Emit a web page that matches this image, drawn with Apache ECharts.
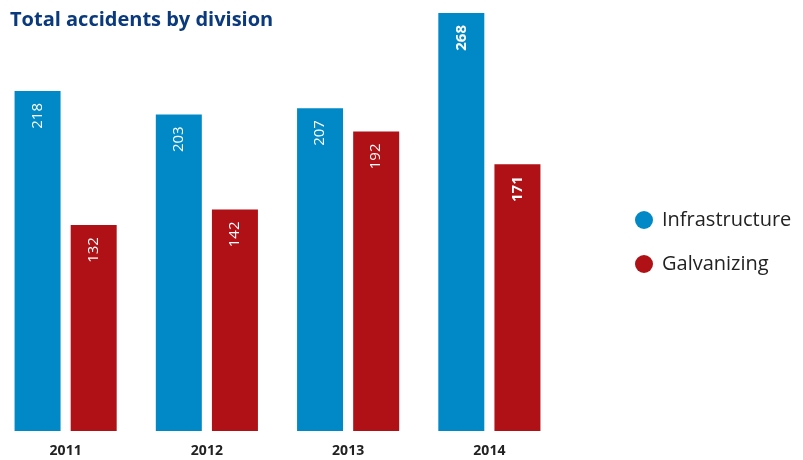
<!DOCTYPE html>
<html>
<head>
<meta charset="utf-8">
<script src="https://cdn.jsdelivr.net/npm/echarts@6/dist/echarts.min.js"></script>
<style>
  html, body { margin: 0; padding: 0; background: #fff; overflow: hidden; }
  /* shifted 5px left so the first group of bars sits close to the edge */
  #chart { width: 808px; height: 460px; margin-left: -5px; }
</style>
</head>
<body>
<div id="chart"></div>
<script>
  var years = ['2011', '2012', '2013', '2014'];
  var infrastructure = [218, 203, 207, 268];
  var galvanizing = [132, 142, 192, 171];

  var chart = echarts.init(document.getElementById('chart'));

  // 2014 values are shown in bold
  function barLabel(params) {
    return params.dataIndex === 3 ? '{b|' + params.value + '}' : '{n|' + params.value + '}';
  }
  var labelStyle = {
    show: true,
    position: 'insideTop',
    rotate: 90,
    align: 'right',
    verticalAlign: 'middle',
    distance: 12,
    formatter: barLabel,
    rich: {
      n: { color: '#fff', fontSize: 15, fontFamily: 'Open Sans' },
      b: { color: '#fff', fontSize: 15, fontWeight: 'bold', fontFamily: 'Open Sans' }
    }
  };

  chart.setOption({
    animation: false,
    title: {
      text: 'Total accidents by division',
      left: 10,
      top: 5,
      textStyle: {
        color: '#0a3a7d',
        fontSize: 20,
        fontWeight: 'bold',
        fontFamily: 'Open Sans'
      }
    },
    legend: {
      orient: 'vertical',
      left: 635,
      top: 205,
      icon: 'circle',
      itemWidth: 18,
      itemHeight: 18,
      itemGap: 24,
      textStyle: { color: '#222', fontSize: 20, fontFamily: 'Open Sans', padding: [0, 0, 0, 4] },
      data: ['Infrastructure', 'Galvanizing']
    },
    grid: {
      left: 0,
      right: 243,
      top: 13,
      bottom: 29,
      containLabel: false
    },
    xAxis: {
      type: 'category',
      data: years,
      axisLine: { show: false },
      axisTick: { show: false },
      axisLabel: {
        color: '#222',
        fontSize: 14,
        fontWeight: 'bold',
        fontFamily: 'Open Sans',
        margin: 13
      }
    },
    yAxis: {
      type: 'value',
      min: 0,
      max: 268,
      show: false
    },
    series: [
      {
        name: 'Infrastructure',
        type: 'bar',
        data: infrastructure,
        barWidth: 46,
        barGap: '22%',
        itemStyle: { color: '#0089c6' },
        label: labelStyle
      },
      {
        name: 'Galvanizing',
        type: 'bar',
        data: galvanizing,
        barWidth: 46,
        itemStyle: { color: '#b01116' },
        label: labelStyle
      }
    ]
  });
</script>
</body>
</html>
